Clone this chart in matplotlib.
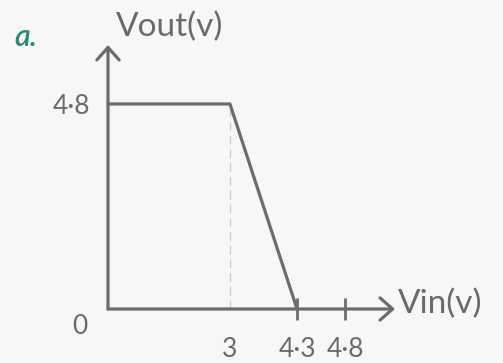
import numpy as np
import matplotlib
matplotlib.use("Agg")
import matplotlib.pyplot as plt

# Transfer characteristic of the stage
vin = [0, 3, 4.3]
vout = [4.8, 4.8, 0]

x_ticks = [3, 4.3, 4.8]
x_tick_labels = ["3", "4·3", "4·8"]
x_marks = [4.3, 4.8]
y_ticks = [4.8]
y_tick_labels = ["4·8"]

part_label = "a."
x_label = "Vin(v)"
y_label = "Vout(v)"

# hand-spaced horizontal scale (the sketch is not drawn to scale)
knots_data = [-100, 0, 3, 4.3, 4.8, 100]
knots_draw = [-100, 0, 3, 4.65, 5.83, 101.03]


def forward(v):
    return np.interp(v, knots_data, knots_draw)


def inverse(v):
    return np.interp(v, knots_draw, knots_data)


ink = "#6a6a6a"
pen = "#6c6c6c"
family = ["Lato", "DejaVu Sans"]
font = dict(family=family, weight="normal", color=ink)

W, H = 503, 363
fig = plt.figure(figsize=(W / 100, H / 100), dpi=100, facecolor="#f7f7f6")
ax = fig.add_axes([108 / W, 54 / H, (395 - 108) / W, (309 - 45) / H])
ax.patch.set_alpha(0)
ax.set_xscale("function", functions=(forward, inverse))
ax.set_xlim(0, float(inverse(7.06)))
ax.set_ylim(0, 6.18)
for s in ax.spines.values():
    s.set_visible(False)

# axes with open arrowheads
arrow = dict(arrowstyle="->,head_length=0.45,head_width=0.4", lw=2.3,
             color=pen, mutation_scale=20, shrinkA=0, shrinkB=0)
ax.annotate("", xy=(0, 1), xytext=(0, 0), xycoords="axes fraction",
            arrowprops=arrow)
ax.annotate("", xy=(1, 0), xytext=(0, 0), xycoords="axes fraction",
            arrowprops=arrow)

# guide at the break point
ax.plot([vin[1], vin[1]], [0, vout[1]], ls=(0, (7, 4)), lw=0.9,
        color="#c9c9c9", zorder=1)

# the characteristic
ax.plot(vin, vout, color=pen, lw=2.3, solid_joinstyle="round",
        solid_capstyle="round", zorder=3, clip_on=False)

# tick marks crossing the Vin axis
ax.plot(x_marks, [0] * len(x_marks), ls="none", marker="|", ms=16,
        mew=2.0, color=pen, zorder=4, clip_on=False)

ax.set_xticks(x_ticks, x_tick_labels)
ax.set_yticks(y_ticks, y_tick_labels)
ax.tick_params(axis="x", length=0, pad=20)
ax.tick_params(axis="y", length=0, pad=13)
for lab in ax.get_xticklabels() + ax.get_yticklabels():
    lab.set_fontsize(19)
    lab.set_fontfamily(family)
    lab.set_fontweight("normal")
    lab.set_color(ink)

ax.annotate("0", xy=(0, 0), xytext=(-28, -18), textcoords="offset pixels",
            ha="center", va="center", fontsize=19, **font)

ax.annotate(y_label, xy=(0, 1), xycoords="axes fraction", xytext=(8, 18),
            textcoords="offset pixels", ha="left", va="center",
            fontsize=24, **font)
ax.annotate(x_label, xy=(1, 0), xycoords="axes fraction", xytext=(3, 5),
            textcoords="offset pixels", ha="left", va="center",
            fontsize=24, **font)

fig.text(14 / W, 1 - 37 / H, part_label, ha="left", va="center",
         fontsize=22, family=family, style="italic",
         color="#2a8a78", weight="semibold")

fig.savefig("out.png", dpi=100, facecolor=fig.get_facecolor())
